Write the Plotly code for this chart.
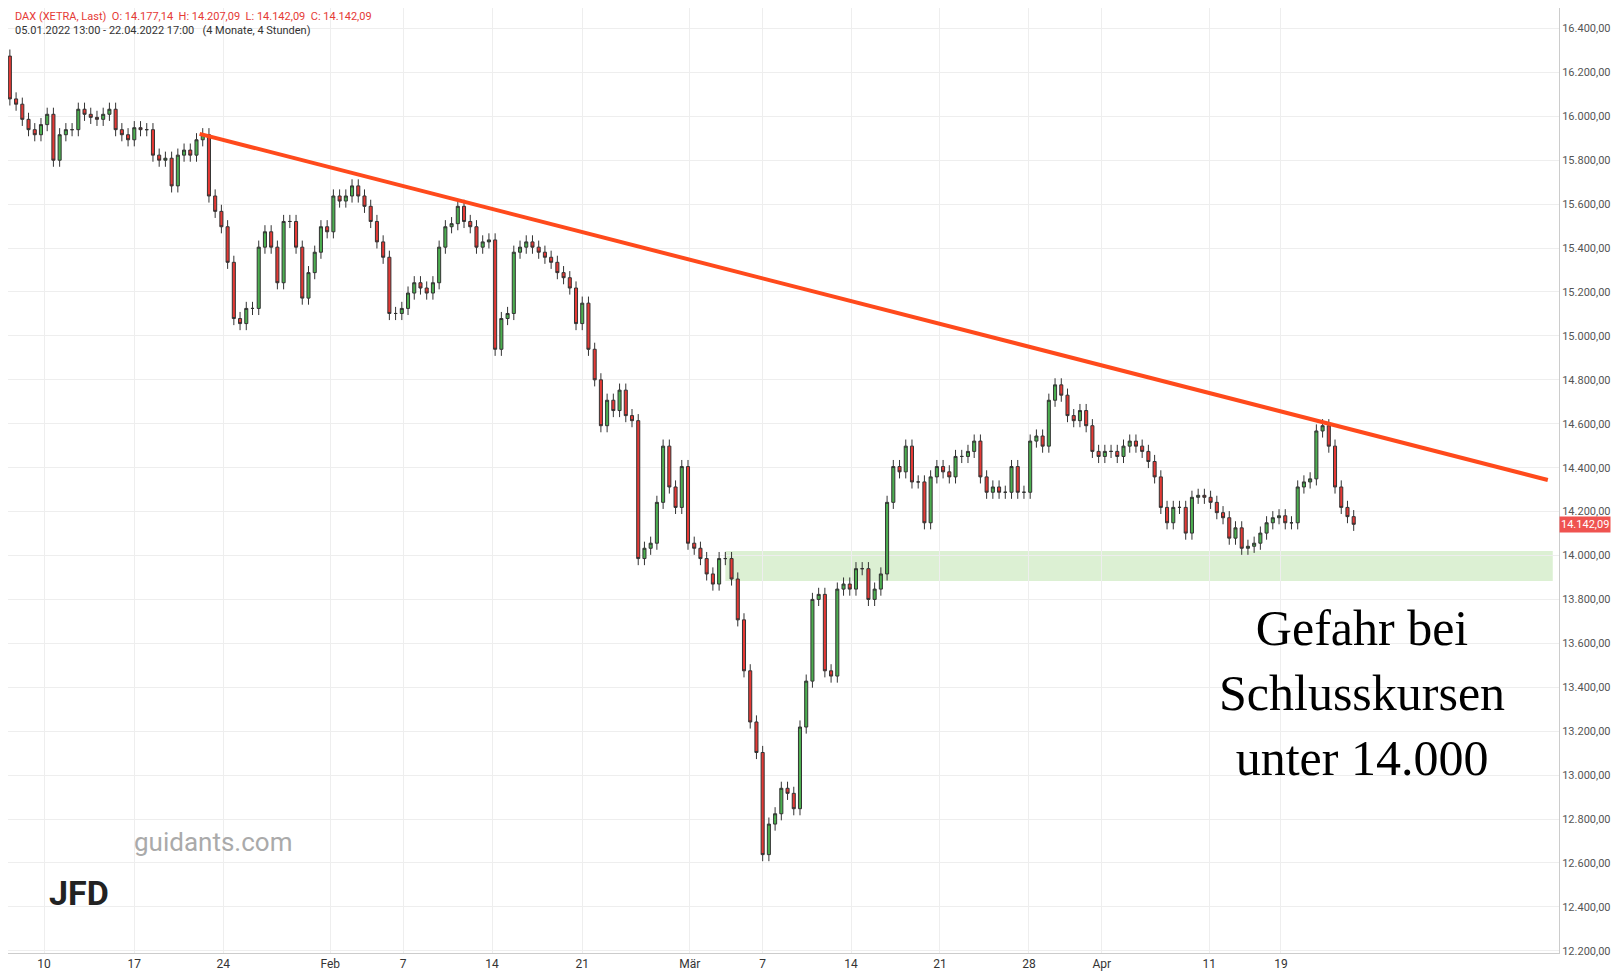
import plotly.graph_objects as go

# closes per 4h candle
closes = [16274, 16079, 16055, 15986, 15939, 15916, 15962, 16009, 15800, 15916,
          15939, 15939, 16032, 16009, 15995, 15986, 16009, 16032, 15939, 15916,
          15893, 15948, 15939, 15939, 15823, 15800, 15809, 15683, 15823, 15846,
          15823, 15893, 15916, 15637, 15567, 15497, 15335, 15079, 15056, 15125,
          15125, 15404, 15474, 15404, 15242, 15521, 15521, 15404, 15172, 15288,
          15381, 15497, 15474, 15637, 15614, 15637, 15683, 15637, 15590, 15521,
          15428, 15358, 15102, 15102, 15125, 15195, 15242, 15218, 15195, 15242,
          15404, 15497, 15511, 15590, 15521, 15497, 15404, 15428, 15437, 14939,
          15079, 15102, 15381, 15404, 15428, 15404, 15381, 15358, 15335, 15288,
          15265, 15218, 15056, 15149, 14939, 14800, 14591, 14707, 14660, 14753,
          14637, 14614, 13986, 14033, 14056, 14242, 14498, 14312, 14219, 14405,
          14056, 14033, 13986, 13916, 13870, 13986, 13986, 13893, 13707, 13475,
          13242, 13103, 12638, 12777, 12824, 12940, 12917, 12847, 13219, 13428,
          13800, 13823, 13475, 13451, 13847, 13870, 13847, 13940, 13940, 13800,
          13847, 13916, 14242, 14405, 14381, 14498, 14335, 14335, 14149, 14358,
          14405, 14381, 14358, 14451, 14451, 14474, 14521, 14358, 14288, 14312,
          14288, 14288, 14405, 14288, 14288, 14521, 14544, 14498, 14707, 14777,
          14730, 14637, 14614, 14660, 14591, 14474, 14451, 14474, 14474, 14451,
          14498, 14521, 14498, 14474, 14428, 14358, 14219, 14149, 14219, 14219,
          14102, 14265, 14274, 14265, 14242, 14195, 14172, 14079, 14126, 14033,
          14042, 14056, 14102, 14149, 14172, 14181, 14149, 14149, 14312, 14335,
          14349, 14567, 14591, 14498, 14312, 14219, 14177, 14142]
first_open = 16250
wick = 30

xtick_pos = [6.5, 21, 35.3, 52.5, 64.2, 78.5, 93, 110.3, 122, 136.2, 150.5, 164.8, 176.5, 193.8, 205.3]
xtick_txt = ["10", "17", "24", "Feb", "7", "14", "21", "Mär", "7", "14", "21", "28", "Apr", "11", "19"]
ytick_vals = list(range(12200, 16401, 200))
ytick_txt = [f"{v:,}".replace(",", ".") + ",00" for v in ytick_vals]

trend_x = [31.5, 248.2]
trend_y = [15920, 14344]
zone = [116, 249, 13884, 14020]

opens = [first_open] + closes[:-1]
highs = [max(o, c) + wick for o, c in zip(opens, closes)]
lows = [min(o, c) - wick for o, c in zip(opens, closes)]
xs = list(range(len(closes)))

fig = go.Figure()
fig.add_shape(type="rect", x0=zone[0], x1=zone[1], y0=zone[2], y1=zone[3],
              fillcolor="rgba(140,205,110,0.3)", line_width=0, layer="below")
fig.add_trace(go.Candlestick(x=xs, open=opens, high=highs, low=lows, close=closes,
                             increasing=dict(line=dict(color="#333", width=1), fillcolor="#4caf50"),
                             decreasing=dict(line=dict(color="#333", width=1), fillcolor="#e53935"),
                             whiskerwidth=0, showlegend=False))
fig.add_trace(go.Scatter(x=trend_x, y=trend_y, mode="lines",
                         line=dict(color="#ff4a1c", width=4), showlegend=False))

fig.add_annotation(x=0.873, y=0.175, xref="paper", yref="paper", xanchor="center", showarrow=False,
                   text="Gefahr bei<br>Schlusskursen<br>unter 14.000",
                   font=dict(family="Liberation Serif", size=50, color="black"), align="center")
fig.add_annotation(x=0.003, y=1.0, xref="paper", yref="paper", xanchor="left", yanchor="top",
                   showarrow=False, align="left",
                   text="<span style='color:#e53935'>DAX (XETRA, Last)  O: 14.177,14  H: 14.207,09  L: 14.142,09  C: 14.142,09</span>"
                        "<br><span style='color:#333'>05.01.2022 13:00 - 22.04.2022 17:00   (4 Monate, 4 Stunden)</span>",
                   font=dict(family="Roboto", size=11))
fig.add_annotation(x=1.0, y=14142, xref="paper", yref="y", xanchor="left", showarrow=False,
                   text="14.142,09", bgcolor="#ef5350", font=dict(color="white", size=11))
fig.add_annotation(x=0.08, y=0.1, xref="paper", yref="paper", xanchor="left", showarrow=False,
                   text="guidants.com", font=dict(family="Roboto", size=26, color="#aaa"))
fig.add_annotation(x=0.025, y=0.04, xref="paper", yref="paper", xanchor="left", showarrow=False,
                   text="<b>JFD</b>", font=dict(family="Roboto", size=34, color="#222"))

fig.update_layout(width=1623, height=973, margin=dict(l=0, r=72, t=0, b=28),
                  plot_bgcolor="white", paper_bgcolor="white",
                  xaxis=dict(range=[0.7, 250], tickvals=xtick_pos, ticktext=xtick_txt,
                             rangeslider_visible=False, showgrid=True, gridcolor="#eee",
                             tickfont=dict(size=12, color="#333"), zeroline=False,
                             showline=True, linecolor="#ccc"),
                  yaxis=dict(side="right", range=[12190, 16493], tickvals=ytick_vals, ticktext=ytick_txt,
                             showgrid=True, gridcolor="#eee", tickfont=dict(size=11, color="#555"),
                             showline=True, linecolor="#ccc", zeroline=False),
                  font=dict(family="Roboto"))
fig.write_html("out.html")
